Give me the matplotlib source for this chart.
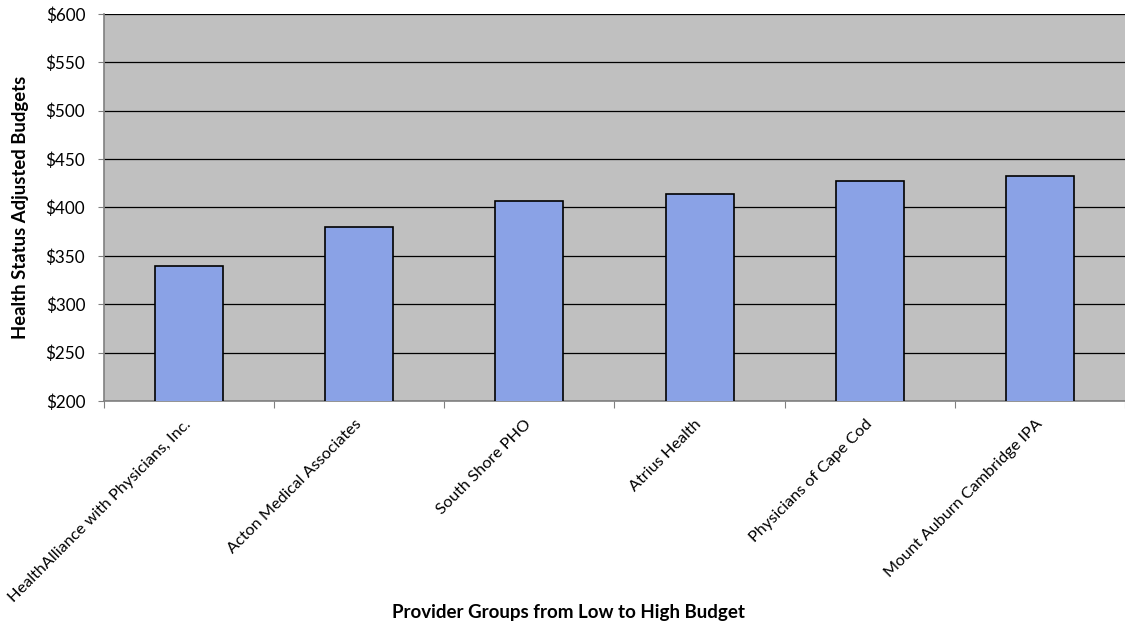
import numpy as np
import matplotlib
matplotlib.use("Agg")
from matplotlib import pyplot as plt
from matplotlib import transforms
from matplotlib.ticker import FixedLocator, FuncFormatter

groups = ["HealthAlliance with Physicians, Inc.", "Acton Medical Associates",
          "South Shore PHO", "Atrius Health", "Physicians of Cape Cod",
          "Mount Auburn Cambridge IPA"]
budgets = [339, 380, 407, 414, 427, 433]

plt.rcParams['font.family'] = ['Lato', 'DejaVu Sans']

fig = plt.figure(figsize=(11.25, 6.24), dpi=100)
ax = fig.add_axes([0.0924, 0.3574, 0.9076, 0.6202])
ax.set_facecolor('#c0c0c0')

x = np.arange(len(groups))
ax.bar(x, budgets, width=0.4, color='#8aa2e6', edgecolor='black',
       linewidth=1.2, zorder=3)

ax.set_ylim(200, 600)
ax.set_xlim(-0.5, len(groups) - 0.5)
ax.set_yticks(np.arange(200, 601, 50))
ax.yaxis.set_major_formatter(FuncFormatter(lambda v, p: "$%d" % v))
ax.grid(axis='y', color='black', linewidth=0.9, zorder=1)
ax.set_axisbelow(True)

# category ticks sit between bars
ax.xaxis.set_major_locator(FixedLocator(np.arange(-0.5, len(groups), 1)))
ax.xaxis.set_major_formatter(FuncFormatter(lambda v, p: ""))
ax.set_xticks(x, minor=True)
labels = ax.set_xticklabels(groups, minor=True, rotation=45, ha='right', va='center',
                            rotation_mode='anchor', fontsize=11.7)
shift = transforms.ScaledTranslation(6 / 100, 0, fig.dpi_scale_trans)
for lb in labels:
    lb.set_transform(lb.get_transform() + shift)
ax.tick_params(axis='x', which='minor', length=0, pad=15)
ax.tick_params(axis='x', which='major', length=5, color='#808080')
ax.tick_params(axis='y', length=4.5, color='#808080', labelsize=12.3, pad=9)

for s in ['top', 'right']:
    ax.spines[s].set_visible(False)
for s in ['left', 'bottom']:
    ax.spines[s].set_color('#808080')
    ax.spines[s].set_linewidth(1.2)

ax.set_ylabel("Health Status Adjusted Budgets", fontsize=13.3, fontweight='bold', labelpad=12)
fig.text(0.505, 0.019, "Provider Groups from Low to High Budget", ha='center', va='center',
         fontsize=13.5, fontweight='bold')

plt.savefig("out.png", dpi=100)
